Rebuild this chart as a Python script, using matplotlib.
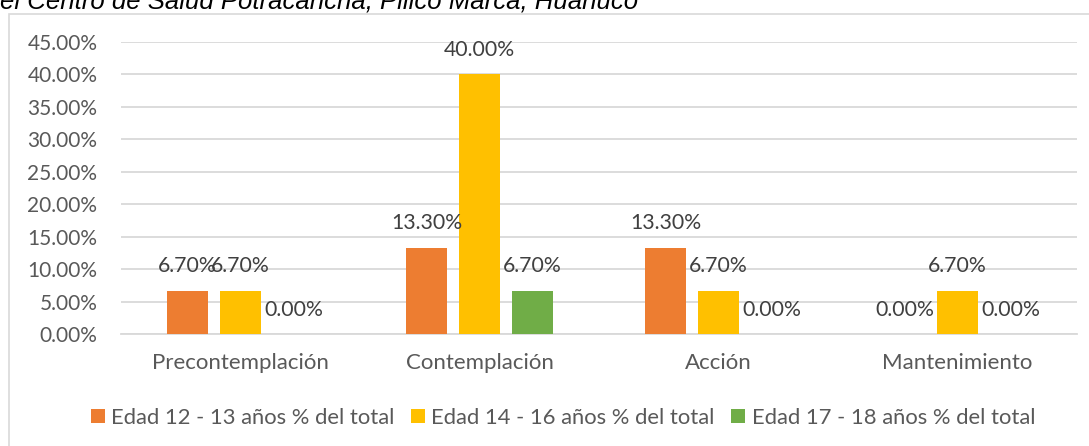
import numpy as np
import matplotlib
matplotlib.use("Agg")
import matplotlib.pyplot as plt
from matplotlib.patches import Patch, Rectangle

# data
etapas = ["Precontemplación", "Contemplación", "Acción", "Mantenimiento"]
series = ["Edad 12 - 13 años % del total",
          "Edad 14 - 16 años % del total",
          "Edad 17 - 18 años % del total"]
edad_12_13 = [6.7, 13.3, 13.3, 0.0]
edad_14_16 = [6.7, 40.0, 6.7, 6.7]
edad_17_18 = [0.0, 6.7, 0.0, 0.0]
colores = ["#ED7D31", "#FFC000", "#70AD47"]

plt.rcParams['font.family'] = ['Lato', 'DejaVu Sans']

W, H = 1089, 446
fig = plt.figure(figsize=(W / 100, H / 100), dpi=100)

# chart border (Excel chart area)
fig.patches.append(Rectangle((9 / W, -0.05), 1.1, 1 - 14 / H + 0.05,
                             transform=fig.transFigure, fill=False,
                             edgecolor="#d9d9d9", linewidth=1.2))

# clipped title at the top
fig.text(0.0, 1 - 9 / H, "el Centro de Salud Potracancha, Pillco Marca, Huánuco",
         family="Liberation Sans", style="italic", fontsize=18.5,
         color="black", ha="left", va="baseline")

ax = fig.add_axes([121 / W, 1 - 334 / H, (1077 - 121) / W, (334 - 42) / H])

x = np.arange(len(etapas))
ancho = 0.1715
paso = 0.2218
for i, (vals, col) in enumerate(zip([edad_12_13, edad_14_16, edad_17_18], colores)):
    pos = x + (i - 1) * paso
    ax.bar(pos, vals, width=ancho, color=col, zorder=3)
    for px, v in zip(pos, vals):
        ax.annotate("%.2f%%" % v, xy=(px, v), xytext=(0, 17.5),
                    textcoords="offset points", ha="center", va="center",
                    fontsize=15.3, color="#404040", zorder=4)

ax.set_xlim(-0.5, 3.5)
ax.set_ylim(0, 45)
ax.set_yticks(np.arange(0, 46, 5))
ax.set_yticklabels(["%.2f%%" % t for t in np.arange(0, 46, 5)])
ax.set_xticks(x)
ax.set_xticklabels(etapas)
ax.grid(axis="y", color="#d9d9d9", linewidth=1.3, zorder=0)
for s in ["top", "right", "left"]:
    ax.spines[s].set_visible(False)
ax.spines["bottom"].set_color("#d9d9d9")
ax.spines["bottom"].set_linewidth(1.3)
ax.tick_params(axis="y", length=0, pad=17, labelsize=15, labelcolor="#595959")
ax.tick_params(axis="x", length=0, pad=14, labelsize=16, labelcolor="#595959")

handles = [Patch(facecolor=c, edgecolor="none") for c in colores]
fig.legend(handles, series, loc="center", bbox_to_anchor=(563 / W, 1 - 418 / H),
           ncol=3, frameon=False, fontsize=15.8, labelcolor="#595959",
           handlelength=0.63, handleheight=0.63, handletextpad=0.3,
           columnspacing=0.75)

fig.savefig("out.png", dpi=100)
